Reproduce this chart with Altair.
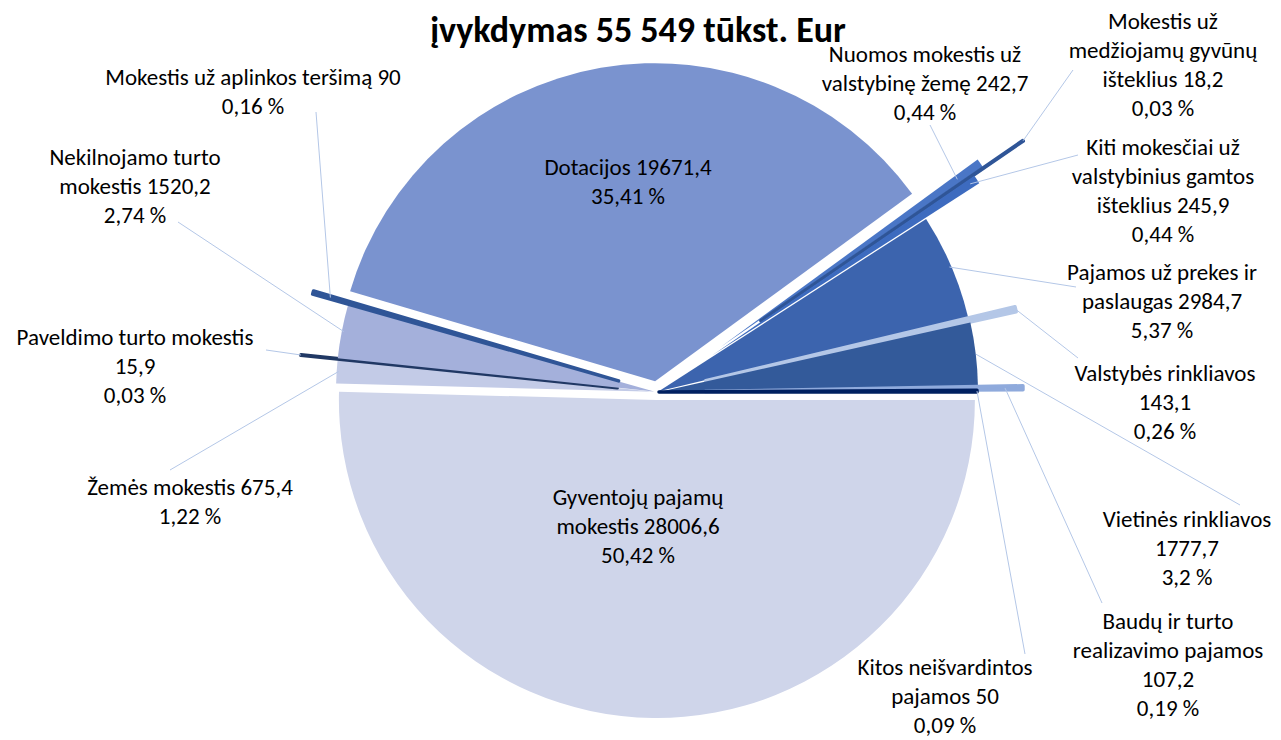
import altair as alt
import pandas as pd

# ---- data ----
categories = [
    "Gyventojų pajamų\nmokestis",
    "Žemės mokestis",
    "Paveldimo turto mokestis",
    "Nekilnojamo turto\nmokestis",
    "Mokestis už aplinkos teršimą",
    "Dotacijos",
    "Nuomos mokestis už\nvalstybinę žemę",
    "Mokestis už\nmedžiojamų gyvūnų\ništeklius",
    "Kiti mokesčiai už\nvalstybinius gamtos\ništeklius",
    "Pajamos už prekes ir\npaslaugas",
    "Valstybės rinkliavos",
    "Vietinės rinkliavos",
    "Baudų ir turto\nrealizavimo pajamos",
    "Kitos neišvardintos\npajamos",
]
values = [28006.6, 675.4, 15.9, 1520.2, 90, 19671.4, 242.7, 18.2, 245.9,
          2984.7, 143.1, 1777.7, 107.2, 50]
TITLE = "įvykdymas 55 549 tūkst. Eur"

# ---- styles (colours, explosion, label layout) ----
colors = ["#CFD5EA", "#C3CBE7", "#203864", "#A4B0DB", "#2F5597", "#7A93CF",
          "#4A76C6", "#2F5597", "#3D6BBF", "#3C64AE", "#B4C7E7", "#335A9A",
          "#8FAADC", "#002060"]
explode = [8, 3, 40, 3, 40, 11, 78, 126, 66, 2, 50, 3, 48, 2]
value_sep = [" ", " ", "\n", " ", " ", " ", " ", " ", " ", " ", "\n", "\n", "\n", " "]
anchor_r = [0, 316, 318, 316, 300, 0, 290, 318, 310, 316, 318, 318, 300, 318]
# centre x and first-line y of every label block (page pixels)
label_xy = [(638, 498), (190, 488), (135, 338), (135, 158), (253, 78), (628, 168),
            (925, 55), (1163, 22), (1163, 148), (1162, 273), (1165, 374),
            (1187, 520), (1168, 622), (945, 668)]
leader_end = [None, (170, 470), (266, 350), (178, 222), (316, 112), None,
              (930, 125), (1073, 70), (1078, 155), (1076, 287), (1078, 358),
              (1240, 505), (1102, 603), (1025, 654)]

OFF = 8
CX, CY = 657 - OFF, 392 - OFF
R = 318

total = sum(values)


def fmt_num(v):
    return f"{v:g}".replace(".", ",")


def fmt_pct(v):
    p = round(v / total * 100, 2)
    return f"{p:g}".replace(".", ",") + " %"


rows = []
for i, (c, v) in enumerate(zip(categories, values)):
    lx, ly = label_xy[i]
    le = leader_end[i]
    rows.append({
        "i": i, "cat": c, "v": v, "e": explode[i], "ar": anchor_r[i],
        "label": c + value_sep[i] + fmt_num(v) + "\n" + fmt_pct(v),
        "lx": lx - OFF, "ly": ly - OFF,
        "lx2": (le[0] - OFF) if le else None,
        "ly2": (le[1] - OFF) if le else None,
        "lead": le is not None,
    })
df = pd.DataFrame(rows)

base = (
    alt.Chart(df)
    .transform_joinaggregate(total="sum(v)")
    .transform_window(cum="sum(v)", sort=[alt.SortField("i")], frame=[None, 0])
    .transform_calculate(a1="PI/2 + 2*PI*datum.cum/datum.total")
    .transform_calculate(a0="datum.a1 - 2*PI*datum.v/datum.total")
    .transform_calculate(mid="(datum.a0 + datum.a1)/2")
    .transform_calculate(
        px=f"{CX} + datum.e*sin(datum.mid)",
        py=f"{CY} - datum.e*cos(datum.mid)",
    )
    .transform_calculate(
        ax="datum.px + datum.ar*sin(datum.mid)",
        ay="datum.py - datum.ar*cos(datum.mid)",
    )
)

cscale = alt.Scale(domain=categories, range=colors)

arcs = base.mark_arc(radius=R, strokeJoin="round").encode(
    x=alt.X("px:Q", scale=None),
    y=alt.Y("py:Q", scale=None),
    theta=alt.Theta("a0:Q", scale=None),
    theta2=alt.Theta2("a1:Q"),
    color=alt.Color("cat:N", scale=cscale, legend=None),
    stroke=alt.Stroke("cat:N", scale=cscale, legend=None),
    strokeWidth=alt.condition("datum.v < 200", alt.value(3.5), alt.value(0)),
)

leaders = base.transform_filter("datum.lead").mark_rule(
    color="#B4C7E7", strokeWidth=1
).encode(
    x=alt.X("ax:Q", scale=None),
    y=alt.Y("ay:Q", scale=None),
    x2="lx2:Q",
    y2="ly2:Q",
)

FONT = "Carlito, Calibri, Lato, sans-serif"
labels = base.mark_text(
    lineBreak="\n", font=FONT, fontSize=23, lineHeight=29,
    align="center", baseline="middle", color="#000000",
).encode(
    x=alt.X("lx:Q", scale=None),
    y=alt.Y("ly:Q", scale=None),
    text="label:N",
)

title = alt.Chart(pd.DataFrame({"t": [TITLE]})).mark_text(
    font=FONT, fontSize=36, fontWeight="bold", align="center",
    baseline="alphabetic", color="#000000",
).encode(
    x=alt.value(638 - OFF), y=alt.value(42 - OFF), text="t:N"
)

chart = alt.layer(arcs, leaders, labels, title).properties(
    width=1265, height=732, padding=0, autosize="none"
).configure_view(stroke=None)

chart.save("out.html", embed_options={"renderer": "svg", "actions": False})
